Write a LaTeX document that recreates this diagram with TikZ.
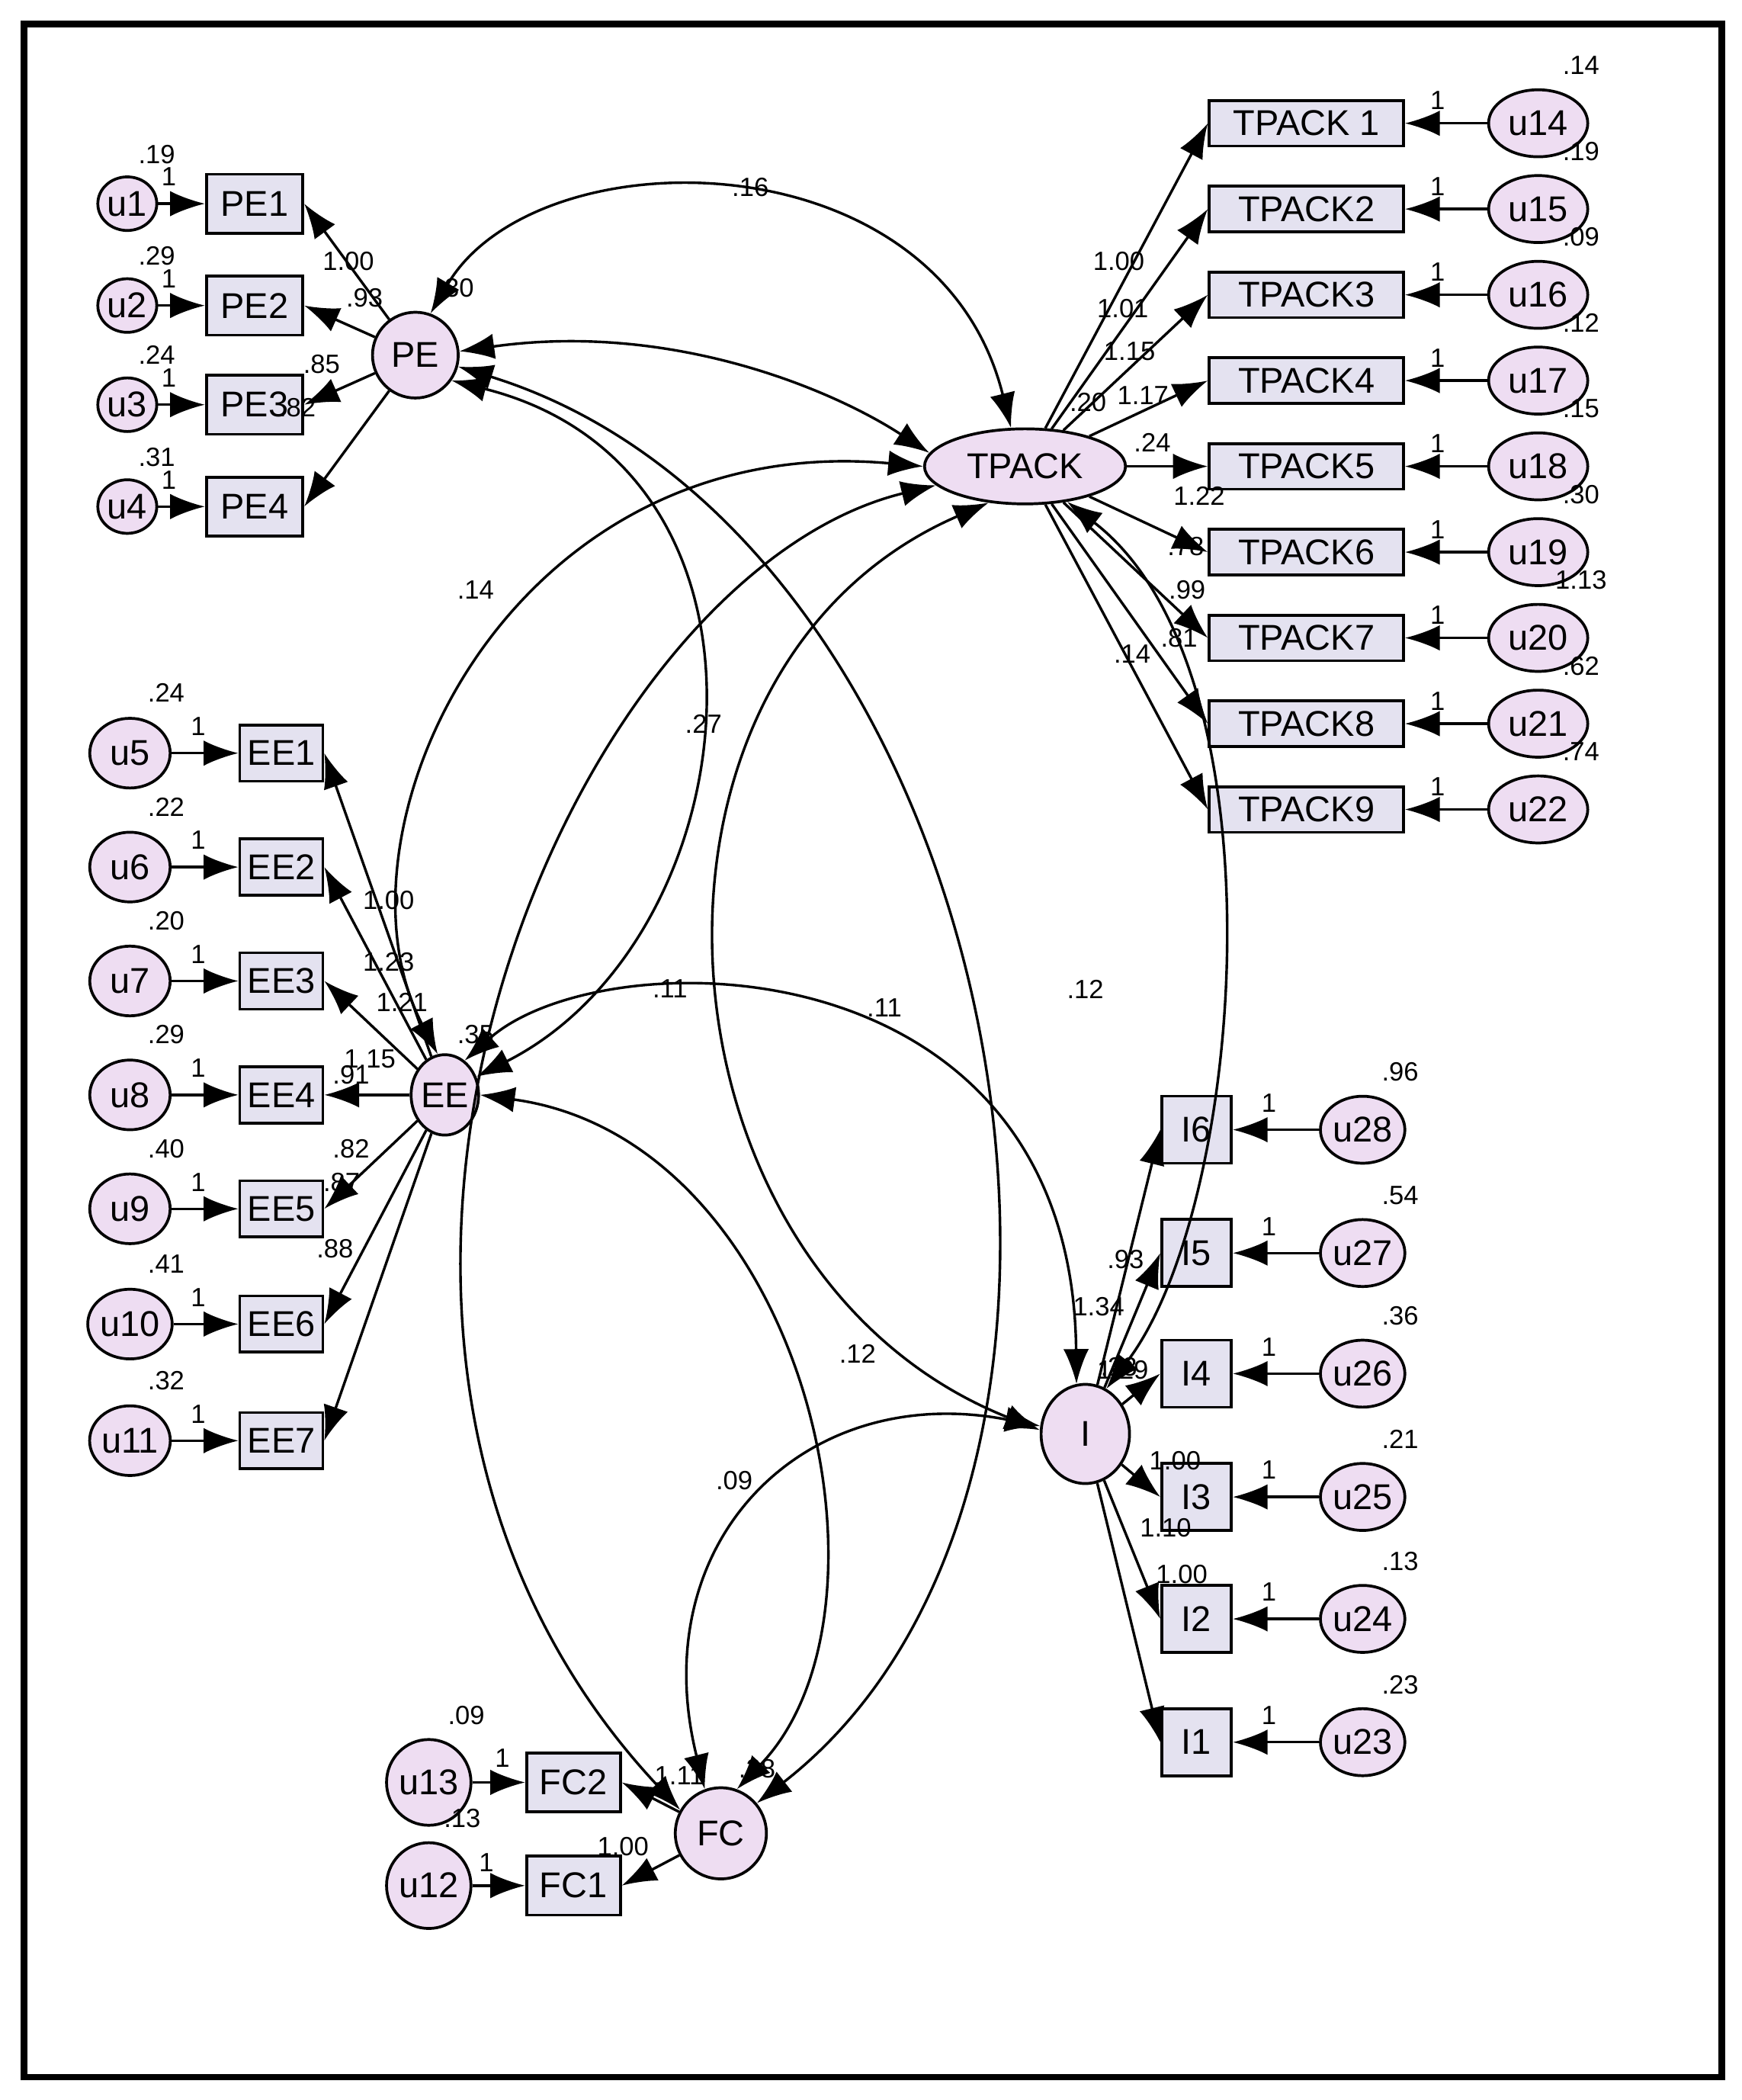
\documentclass[tikz,border=0pt]{standalone}
\usepackage{fontspec}
\setmainfont{Liberation Sans}
\usetikzlibrary{arrows.meta,shapes.geometric}
\definecolor{latc}{HTML}{EEDDF2}
\definecolor{obsc}{HTML}{E4E2F0}
\begin{document}
\begin{tikzpicture}[x=0.1mm,y=-0.1mm,
 ar/.style={-{Latex[length=2.6mm,width=1.9mm]},line width=0.55pt},
 cv/.style={{Latex[length=2.6mm,width=1.9mm]}-{Latex[length=2.6mm,width=1.9mm]},line width=0.55pt},
 lat/.style={ellipse,draw,line width=0.6pt,fill=latc,inner sep=0pt,font=\fontsize{7.6}{8}\selectfont},
 obs/.style={rectangle,draw,line width=0.6pt,fill=obsc,inner sep=0pt,font=\fontsize{7.6}{8}\selectfont},
 lb/.style={font=\fontsize{5.6}{6}\selectfont,inner sep=0.5pt}]
\useasboundingbox (0,0) rectangle (1300,1567);
\draw[line width=1.4pt] (18,18) rectangle (1285,1550);
% PE block
\node[lat,minimum width=6.4mm,minimum height=6.4mm] (PE) at (310,265) {PE};
\foreach \i/\y/\v in {1/152/.19,2/228/.29,3/302/.24,4/378/.31}{
 \node[obs,minimum width=7.2mm,minimum height=4.4mm] (PE\i) at (190,\y) {PE\i};
 \node[lat,minimum width=4.4mm,minimum height=4mm] (u\i) at (95,\y) {u\i};
 \draw[ar] (u\i) -- (PE\i.west);
 \node[lb] at (126,\y-20) {1};
 \node[lb] at (117,\y-37) {\v};
 \draw[ar] (PE) -- (PE\i.east);
}
\node[lb] at (260,195) {1.00};\node[lb] at (272,222) {.93};\node[lb] at (240,272) {.85};\node[lb] at (222,304) {.82};
\node[lb] at (340,215) {.30};
% TPACK
\node[lat,minimum width=15mm,minimum height=5.6mm] (TP) at (765,348) {TPACK};
\node[lb] at (812,300) {.20};
\foreach \i/\y/\v/\n in {1/92/.14/14,2/156/.19/15,3/220/.09/16,4/284/.12/17,5/348/.15/18,6/412/.30/19,7/476/1.13/20,8/540/.62/21,9/604/.74/22}{
 \node[obs,minimum width=14.5mm,minimum height=3.4mm] (T\i) at (975,\y) {\ifnum\i=1 TPACK 1\else TPACK\i\fi};
 \node[lat,minimum width=7.4mm,minimum height=5mm] (u\n) at (1148,\y) {u\n};
 \draw[ar] (u\n) -- (T\i.east);
 \node[lb] at (1073,\y-17) {1};
 \node[lb] at (1180,\y-43) {\v};
 \draw[ar] (TP) -- (T\i.west);
}
\foreach \t/\x/\y in {1.00/835/195,1.01/838/230,1.15/843/262,1.17/853/295,.24/860/330,1.22/895/370,.78/885/408,.99/886/440,.81/880/476}{\node[lb] at (\x,\y) {\t};}
% EE
\node[lat,minimum width=4.4mm,minimum height=6mm] (EE) at (332,817) {EE};
\node[lb] at (355,772) {.35};
\foreach \i/\y/\v/\n in {1/562/.24/5,2/647/.22/6,3/732/.20/7,4/817/.29/8,5/902/.40/9,6/988/.41/10,7/1075/.32/11}{
 \node[obs,minimum width=6.2mm,minimum height=4.2mm] (EE\i) at (210,\y) {EE\i};
 \node[lat,minimum width=6mm,minimum height=5.2mm] (u\n) at (97,\y) {u\n};
 \draw[ar] (u\n) -- (EE\i.west);
 \node[lb] at (148,\y-20) {1};
 \node[lb] at (124,\y-45) {\v};
 \draw[ar] (EE) -- (EE\i.east);
}
\foreach \t/\x/\y in {1.00/290/672,1.23/290/718,1.21/300/748,1.15/276/790,.91/262/802,.82/262/857,.87/255/882,.88/250/932}{\node[lb] at (\x,\y) {\t};}
% I
\node[lat,minimum width=6.6mm,minimum height=7.4mm] (I) at (810,1070) {I};
\node[lb] at (835,1020) {.23};
\foreach \i/\y/\v/\n in {6/843/.96/28,5/935/.54/27,4/1025/.36/26,3/1117/.21/25,2/1208/.13/24,1/1300/.23/23}{
 \node[obs,minimum width=5.2mm,minimum height=5mm] (I\i) at (893,\y) {I\i};
 \node[lat,minimum width=6mm,minimum height=5mm] (u\n) at (1017,\y) {u\n};
 \draw[ar] (u\n) -- (I\i.east);
 \node[lb] at (947,\y-20) {1};
 \node[lb] at (1045,\y-43) {\v};
 \draw[ar] (I) -- (I\i.west);
}
\foreach \t/\x/\y in {.93/840/940,1.34/820/975,1.29/838/1022,1.00/877/1090,1.10/870/1140,1.00/882/1175}{\node[lb] at (\x,\y) {\t};}
% FC
\node[lat,minimum width=6.8mm,minimum height=6.8mm] (FC) at (538,1368) {FC};
\node[lb] at (565,1320) {.28};
\node[obs,minimum width=7mm,minimum height=4.4mm] (FC2) at (428,1330) {FC2};
\node[obs,minimum width=7mm,minimum height=4.4mm] (FC1) at (428,1407) {FC1};
\node[lat,minimum width=5mm,minimum height=6.4mm] (u13) at (320,1330) {u13};
\node[lat,minimum width=5mm,minimum height=6.4mm] (u12) at (320,1407) {u12};
\draw[ar] (u13) -- (FC2);\draw[ar] (u12) -- (FC1);
\draw[ar] (FC) -- (FC2.east);\draw[ar] (FC) -- (FC1.east);
\node[lb] at (375,1312) {1};\node[lb] at (363,1390) {1};
\node[lb] at (348,1280) {.09};\node[lb] at (345,1357) {.13};
\node[lb] at (507,1325) {1.11};\node[lb] at (465,1378) {1.00};
% covariances
\draw[cv] (PE.70) .. controls (400,100) and (700,100) .. (TP.110);
\node[lb] at (560,140) {.16};
\draw[cv] (PE.5) .. controls (500,240) and (620,290) .. (TP.172);
\draw[cv] (PE.-35) .. controls (600,350) and (560,700) .. (EE.30);
\draw[cv] (TP.180) .. controls (380,320) and (240,620) .. (EE.100);
\node[lb] at (355,440) {.14};
\draw[cv] (TP.192) .. controls (420,430) and (180,1000) .. (FC.150);
\draw[cv] (TP.225) .. controls (450,500) and (480,950) .. (I.175);
\node[lb] at (525,540) {.27};
\draw[cv] (PE.-15) .. controls (750,400) and (880,1100) .. (FC.40);
\node[lb] at (810,738) {.12};
\draw[cv] (TP.-40) .. controls (960,500) and (930,900) .. (I.65);
\node[lb] at (845,488) {.14};
\draw[cv] (EE.60) .. controls (450,700) and (800,700) .. (I.100);
\node[lb] at (500,738) {.11};\node[lb] at (660,752) {.11};
\draw[cv] (EE.0) .. controls (600,850) and (680,1200) .. (FC.70);
\node[lb] at (640,1010) {.12};
\draw[cv] (I.170) .. controls (600,1030) and (480,1150) .. (FC.110);
\node[lb] at (548,1105) {.09};
\end{tikzpicture}
\end{document}
